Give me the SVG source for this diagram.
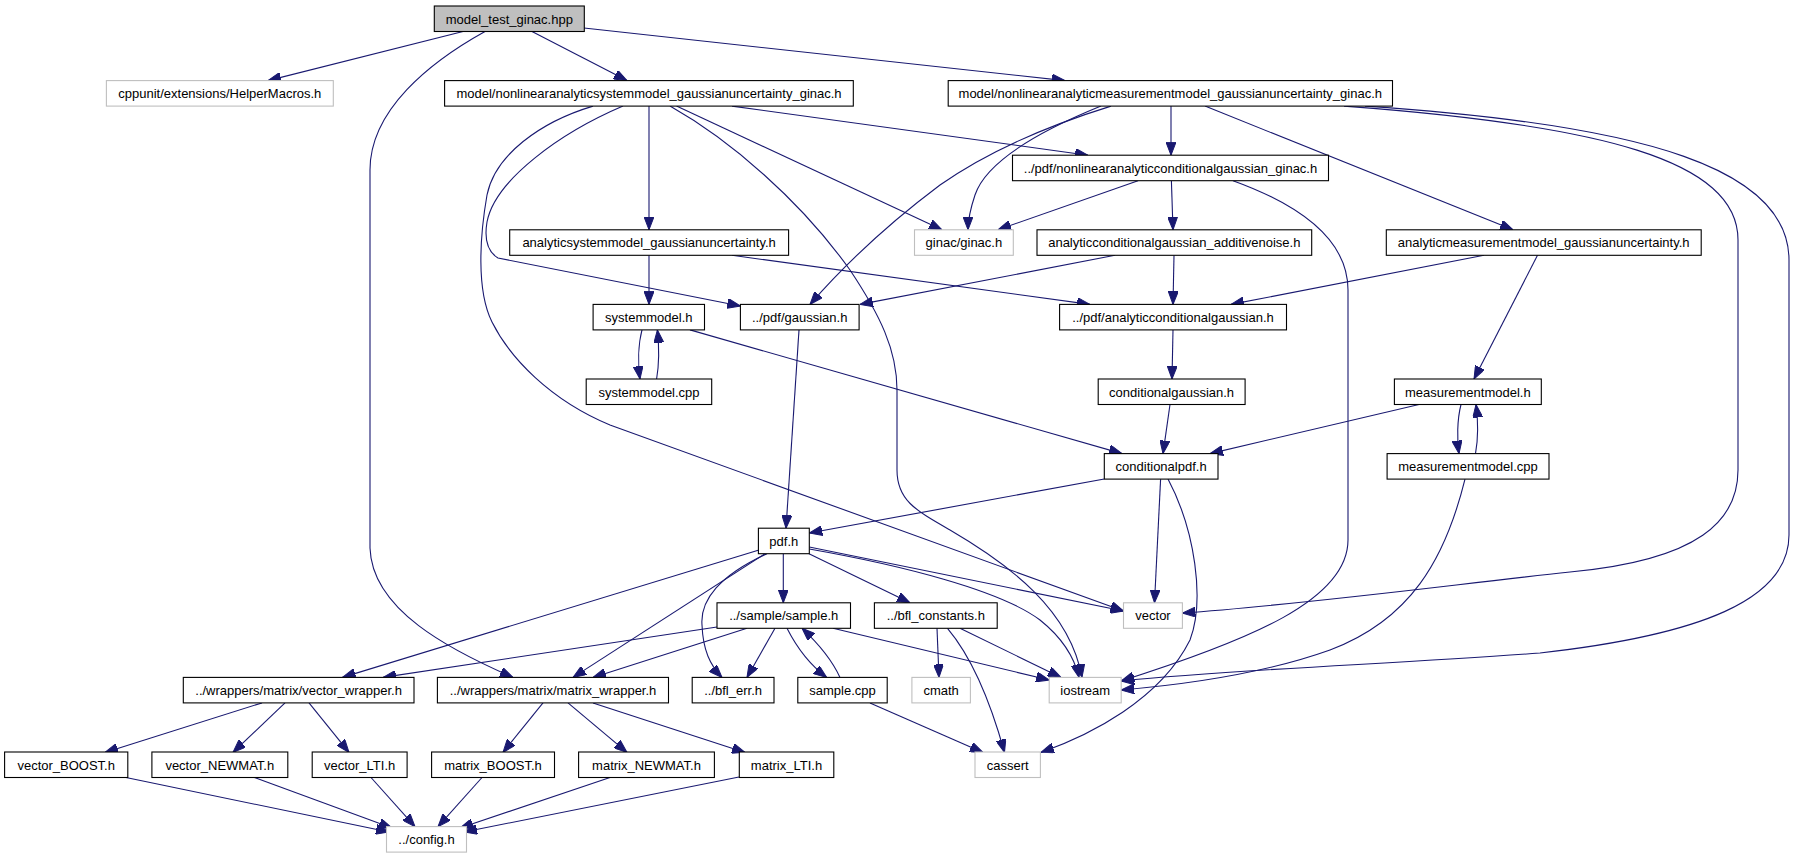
<svg xmlns="http://www.w3.org/2000/svg" width="1795" height="859" viewBox="0 0 1795 859">
<defs>
<marker id="ah" markerUnits="userSpaceOnUse" markerWidth="13" markerHeight="10" viewBox="0 0 13 10" refX="13" refY="5" orient="auto">
<path d="M0,0 L13,5 L0,10 z" fill="#191970" stroke="#191970" stroke-width="1"/>
</marker>
<style>
.n rect{fill:#fff;stroke:#000;stroke-width:1.1}
.x rect{fill:#fff;stroke:#bfbfbf;stroke-width:1.1}
.r rect{fill:#bfbfbf;stroke:#000;stroke-width:1.1}
text{font-family:"Liberation Sans",Arial,sans-serif;font-size:13px;text-anchor:middle;fill:#000}
#edges path{fill:none;stroke:#191970;stroke-width:1.1;marker-end:url(#ah)}
</style>
</defs>
<rect width="1795" height="859" fill="#fff"/>
<g id="edges">
<path d="M463,31.5 L268,80.6"/>
<path d="M532,31.5 L627,80.6"/>
<path d="M584,28 L1065,80.6"/>
<path d="M485,31.5 C430,62 370,110 370,170 L370,548 C372,610 450,650 513,677.4"/>
<path d="M649,106.1 L649,229.8"/>
<path d="M676.5,106.1 L942,229.8"/>
<path d="M732,106.1 L1088,155.2"/>
<path d="M593,106.1 C540,122 495,155 487,195 C480,235 476,290 492,322 C510,358 550,400 610,425 L1123.5,611"/>
<path d="M623,106.1 C560,133 495,180 487,222 C484,240 488,252 498,258 L740.4,306"/>
<path d="M670,106.1 C730,140 800,200 850,270 C880,315 897,350 897,390 L897,470 C897,500 915,510 950,530 C1010,565 1070,610 1082,677.4"/>
<path d="M1171,106.1 L1171,155.2"/>
<path d="M1101,106.1 C1030,135 985,165 975,195 C970,210 968,220 968,229.8"/>
<path d="M1111,106.1 C1050,125 990,150 940,185 C880,230 840,270 810,304.4"/>
<path d="M1205,106.1 L1513,229.8"/>
<path d="M1344,106.1 C1600,125 1738,160 1738,240 L1738,470 C1738,520 1700,560 1570,572 C1450,585 1300,605 1182.4,613"/>
<path d="M1365,106.1 C1650,125 1789,170 1789,260 L1789,535 C1789,600 1700,635 1540,653 C1400,664 1250,668 1121.2,681"/>
<path d="M1138,180.7 L998,229.8"/>
<path d="M1171.4,180.7 L1173,229.8"/>
<path d="M1233,180.7 C1300,205 1348,240 1348,290 L1348,540 C1348,600 1250,640 1121.2,681"/>
<path d="M649,255.3 L649,304.4"/>
<path d="M732,255.3 L1090,304.4"/>
<path d="M1115,255.3 L860,304.4"/>
<path d="M1174,255.3 L1173,304.4"/>
<path d="M1484,255.3 L1231,304.4"/>
<path d="M1537.5,255.3 L1474,379"/>
<path d="M1461,404.5 C1457,420 1457,440 1459,453.6"/>
<path d="M1475.5,453.6 C1478,440 1478,420 1476,404.5"/>
<path d="M1419,404.5 L1210,453.6"/>
<path d="M1465,479.1 C1445,560 1410,620 1330,650 C1260,675 1180,685 1121.2,690"/>
<path d="M642,329.9 C638,345 638,365 640,379"/>
<path d="M656.6,379 C659,365 659,345 657.4,329.9"/>
<path d="M690,329.9 L1122,453.6"/>
<path d="M799,329.9 L786,528.2"/>
<path d="M1173,329.9 L1172,379"/>
<path d="M1170,404.5 L1163,453.6"/>
<path d="M1104.3,479 L809.3,533"/>
<path d="M1160.6,479.1 L1154.5,602.8"/>
<path d="M1168,479.1 C1195,530 1205,600 1190,640 C1160,700 1090,735 1041,752.4"/>
<path d="M759,550 L342.5,677.4"/>
<path d="M765,553.7 L573,677.4"/>
<path d="M767,553.7 C720,575 700,600 702,625 C703,650 710,665 722,677.4"/>
<path d="M783.3,553.7 L783.3,602.8"/>
<path d="M809,553.7 L910,602.8"/>
<path d="M809.3,547 L1123.5,611"/>
<path d="M809.3,549 C900,565 1000,590 1040,620 C1065,640 1075,660 1079,677.4"/>
<path d="M717,627 L383,677.4"/>
<path d="M747,628.3 L593,677.4"/>
<path d="M775,628.3 L747,677.4"/>
<path d="M787,628.3 C797,648 810,665 826.7,677.4"/>
<path d="M840,677.4 C832,660 820,645 802,628.3"/>
<path d="M833,628.3 L1049.2,680"/>
<path d="M870,702.9 L983,752.4"/>
<path d="M937,628.3 L939,677.4"/>
<path d="M947.5,628.3 C970,655 990,700 1004.5,752.4"/>
<path d="M960,628.3 L1061,677.4"/>
<path d="M262,702.9 L105,752.4"/>
<path d="M285,702.9 L233,752.4"/>
<path d="M309,702.9 L349,752.4"/>
<path d="M543,702.9 L503,752.4"/>
<path d="M568,702.9 L627,752.4"/>
<path d="M593,702.9 L745,752.4"/>
<path d="M126,777.5 L389,832"/>
<path d="M254.5,777.5 L392,828"/>
<path d="M371,777.5 L415,826.6"/>
<path d="M482,777.5 L438,826.6"/>
<path d="M610,777.5 L460,828"/>
<path d="M739,777 L464,832"/>
</g>
<g id="n0" class="r"><rect x="434.3" y="6" width="150" height="25.5"/><text x="509.3" y="23.5">model_test_ginac.hpp</text></g>
<g id="n1" class="x"><rect x="106.4" y="80.6" width="226.9" height="25.5"/><text x="219.8" y="98.1">cppunit/extensions/HelperMacros.h</text></g>
<g id="n2" class="n"><rect x="444.6" y="80.6" width="408.7" height="25.5"/><text x="649" y="98.1">model/nonlinearanalyticsystemmodel_gaussianuncertainty_ginac.h</text></g>
<g id="n3" class="n"><rect x="948.2" y="80.6" width="444.3" height="25.5"/><text x="1170.3" y="98.1">model/nonlinearanalyticmeasurementmodel_gaussianuncertainty_ginac.h</text></g>
<g id="n4" class="n"><rect x="1012.5" y="155.2" width="316" height="25.5"/><text x="1170.5" y="172.7">../pdf/nonlinearanalyticconditionalgaussian_ginac.h</text></g>
<g id="n5" class="n"><rect x="509.7" y="229.8" width="278.9" height="25.5"/><text x="649.1" y="247.3">analyticsystemmodel_gaussianuncertainty.h</text></g>
<g id="n6" class="x"><rect x="914.5" y="229.8" width="98.8" height="25.5"/><text x="963.9" y="247.3">ginac/ginac.h</text></g>
<g id="n7" class="n"><rect x="1037" y="229.8" width="274.7" height="25.5"/><text x="1174.3" y="247.3">analyticconditionalgaussian_additivenoise.h</text></g>
<g id="n8" class="n"><rect x="1386.3" y="229.8" width="314.9" height="25.5"/><text x="1543.7" y="247.3">analyticmeasurementmodel_gaussianuncertainty.h</text></g>
<g id="n9" class="n"><rect x="593.1" y="304.4" width="111.4" height="25.5"/><text x="648.8" y="321.9">systemmodel.h</text></g>
<g id="n10" class="n"><rect x="740.4" y="304.4" width="118.7" height="25.5"/><text x="799.7" y="321.9">../pdf/gaussian.h</text></g>
<g id="n11" class="n"><rect x="1059.6" y="304.4" width="226.9" height="25.5"/><text x="1173" y="321.9">../pdf/analyticconditionalgaussian.h</text></g>
<g id="n12" class="n"><rect x="586.2" y="379" width="125.5" height="25.5"/><text x="649" y="396.5">systemmodel.cpp</text></g>
<g id="n13" class="n"><rect x="1098.2" y="379" width="146.9" height="25.5"/><text x="1171.6" y="396.5">conditionalgaussian.h</text></g>
<g id="n14" class="n"><rect x="1394.4" y="379" width="146.9" height="25.5"/><text x="1467.8" y="396.5">measurementmodel.h</text></g>
<g id="n15" class="n"><rect x="1387.1" y="453.6" width="161.9" height="25.5"/><text x="1468" y="471.1">measurementmodel.cpp</text></g>
<g id="n16" class="n"><rect x="1104.3" y="453.6" width="113.7" height="25.5"/><text x="1161.1" y="471.1">conditionalpdf.h</text></g>
<g id="n17" class="n"><rect x="758.4" y="528.2" width="50.9" height="25.5"/><text x="783.8" y="545.7">pdf.h</text></g>
<g id="n18" class="n"><rect x="717" y="602.8" width="133.5" height="25.5"/><text x="783.7" y="620.3">../sample/sample.h</text></g>
<g id="n19" class="n"><rect x="874.4" y="602.8" width="122.8" height="25.5"/><text x="935.8" y="620.3">../bfl_constants.h</text></g>
<g id="n20" class="x"><rect x="1123.5" y="602.8" width="58.9" height="25.5"/><text x="1153" y="620.3">vector</text></g>
<g id="n21" class="n"><rect x="183.3" y="677.4" width="230.7" height="25.5"/><text x="298.6" y="694.9">../wrappers/matrix/vector_wrapper.h</text></g>
<g id="n22" class="n"><rect x="437.4" y="677.4" width="231.1" height="25.5"/><text x="553" y="694.9">../wrappers/matrix/matrix_wrapper.h</text></g>
<g id="n23" class="n"><rect x="692.2" y="677.4" width="81.8" height="25.5"/><text x="733.1" y="694.9">../bfl_err.h</text></g>
<g id="n24" class="n"><rect x="797.8" y="677.4" width="89.4" height="25.5"/><text x="842.5" y="694.9">sample.cpp</text></g>
<g id="n25" class="x"><rect x="911.9" y="677.4" width="58.5" height="25.5"/><text x="941.1" y="694.9">cmath</text></g>
<g id="n26" class="x"><rect x="1049.2" y="677.4" width="72" height="25.5"/><text x="1085.2" y="694.9">iostream</text></g>
<g id="n27" class="n"><rect x="4.6" y="752" width="123.2" height="25.5"/><text x="66.2" y="769.5">vector_BOOST.h</text></g>
<g id="n28" class="n"><rect x="151.9" y="752" width="135.9" height="25.5"/><text x="219.8" y="769.5">vector_NEWMAT.h</text></g>
<g id="n29" class="n"><rect x="312.2" y="752" width="94.9" height="25.5"/><text x="359.6" y="769.5">vector_LTI.h</text></g>
<g id="n30" class="n"><rect x="431.6" y="752" width="122.9" height="25.5"/><text x="493" y="769.5">matrix_BOOST.h</text></g>
<g id="n31" class="n"><rect x="578.6" y="752" width="135.8" height="25.5"/><text x="646.5" y="769.5">matrix_NEWMAT.h</text></g>
<g id="n32" class="n"><rect x="739.3" y="752" width="94.5" height="25.5"/><text x="786.5" y="769.5">matrix_LTI.h</text></g>
<g id="n33" class="x"><rect x="975" y="752" width="65.4" height="25.5"/><text x="1007.7" y="769.5">cassert</text></g>
<g id="n34" class="x"><rect x="386.5" y="826.6" width="80" height="25.5"/><text x="426.5" y="844.1">../config.h</text></g>
</svg>
